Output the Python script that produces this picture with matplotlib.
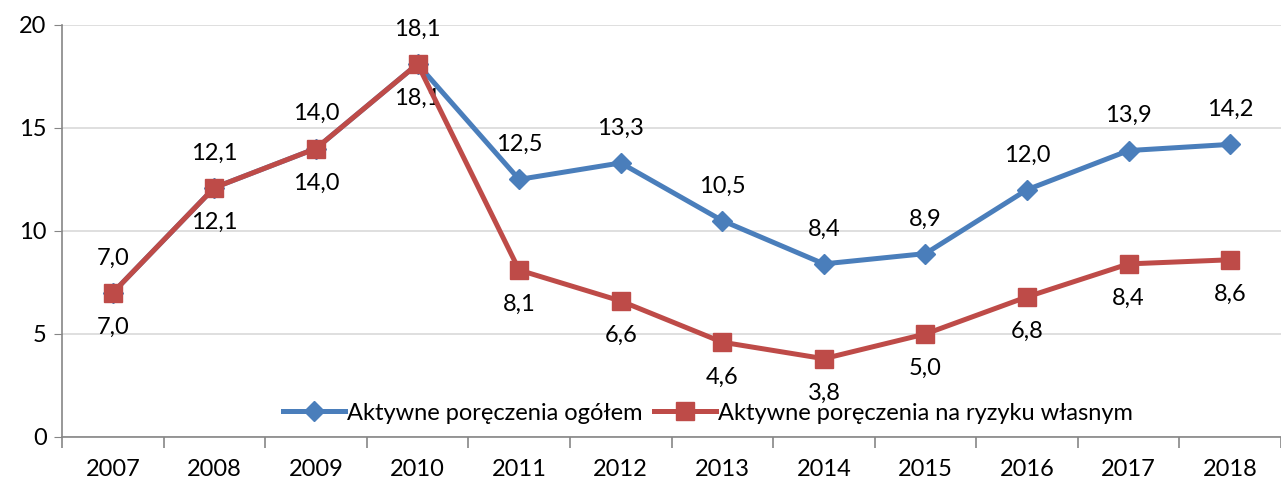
import numpy as np
import matplotlib.pyplot as plt

plt.rcParams['font.family'] = ['Lato', 'DejaVu Sans']

years = ['2007', '2008', '2009', '2010', '2011', '2012', '2013', '2014', '2015', '2016', '2017', '2018']
total = [7.0, 12.1, 14.0, 18.1, 12.5, 13.3, 10.5, 8.4, 8.9, 12.0, 13.9, 14.2]
own_risk = [7.0, 12.1, 14.0, 18.1, 8.1, 6.6, 4.6, 3.8, 5.0, 6.8, 8.4, 8.6]

blue = '#4A7EBB'
red = '#BE4B48'

fig = plt.figure(figsize=(12.81, 4.82), dpi=100)
ax = fig.add_axes([0.0484, 0.0934, 0.9516, 0.855])

x = np.arange(len(years))
ax.plot(x, total, color=blue, lw=3.6, marker='D', ms=10, mec=blue, mfc=blue,
        label='Aktywne poręczenia ogółem', zorder=3)
ax.plot(x, own_risk, color=red, lw=3.6, marker='s', ms=12.5, mec=red, mfc=red,
        label='Aktywne poręczenia na ryzyku własnym', zorder=4)

def fmt(v):
    return f"{v:.1f}".replace('.', ',')

for xi, v in zip(x, total):
    ax.annotate(fmt(v), (xi, v), xytext=(0, 25), textcoords='offset points',
                ha='center', va='center', fontsize=17)
for xi, v in zip(x, own_risk):
    ax.annotate(fmt(v), (xi, v), xytext=(0, -25), textcoords='offset points',
                ha='center', va='center', fontsize=17)

ax.set_xlim(-0.5, 11.4)
ax.set_ylim(0, 20)
ax.set_yticks([0, 5, 10, 15, 20])
ax.set_xticks(x)
ax.set_xticklabels(years)
ax.set_xticks(np.arange(-0.5, 12, 1), minor=True)
ax.tick_params(axis='x', which='major', length=0, labelsize=17, pad=16)
ax.tick_params(axis='x', which='minor', length=8, color='#868686', width=1.2)
ax.tick_params(axis='y', length=6, color='#868686', labelsize=17, pad=5)

ax.grid(axis='y', color='#D9D9D9', lw=1.2)
ax.set_axisbelow(True)
for s in ['top', 'right']:
    ax.spines[s].set_visible(False)
for s in ['left', 'bottom']:
    ax.spines[s].set_color('#868686')
    ax.spines[s].set_linewidth(1.2)

ax.legend(loc='center', bbox_to_anchor=(0.53, 0.058), ncol=2, frameon=False,
          fontsize=17, handlelength=2.6, handletextpad=0.1, columnspacing=0.5)

fig.savefig('out.png', dpi=100)
